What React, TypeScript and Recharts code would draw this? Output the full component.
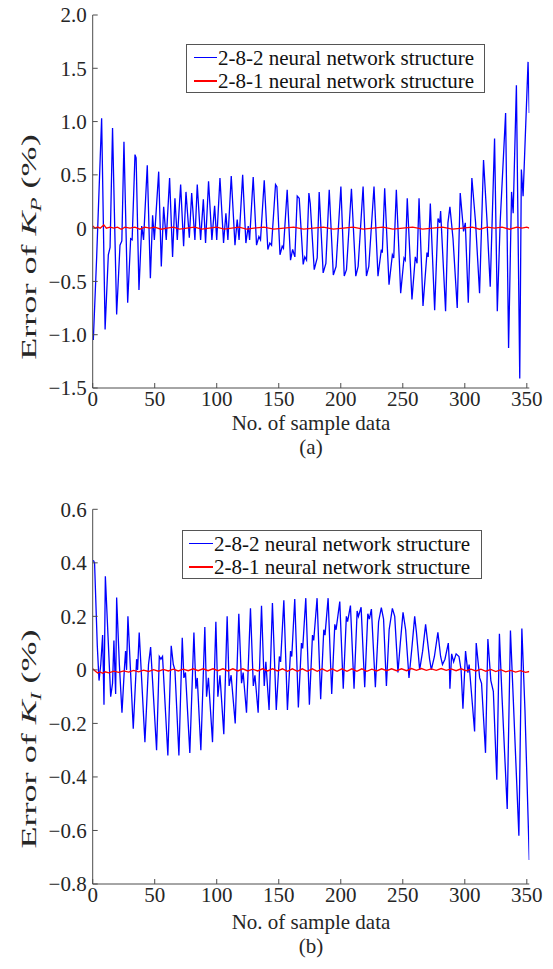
import React from "react";
import { LineChart, Line, XAxis, YAxis, Legend } from "recharts";

// ─── Values ────────────────────────────────────────────────────────────────

const xTicks = [0, 50, 100, 150, 200, 250, 300, 350];
const kpTicks = [-1.5, -1, -0.5, 0, 0.5, 1, 1.5, 2];
const kiTicks = [-0.8, -0.6, -0.4, -0.2, 0, 0.2, 0.4, 0.6];
const seriesNames = ["2-8-2 neural network structure", "2-8-1 neural network structure"];
const captions = ["(a)", "(b)"];

// turning points of each trace: [sample no., error %]
const kpNet282: [number, number][] = [
  [0.5, -1.05], [3.2, -0.27], [7.2, 1.03], [10, -0.95], [12.6, -0.25], [14, -0.18], [16, 0.94],
  [19.3, -0.81], [22, -0.16], [23.5, -0.12], [25.2, 0.81], [28.2, -0.7], [30.6, -0.1], [31.8, -0.11],
  [34.1, 0.69], [35, 0.66], [37.3, -0.58], [39.5, 0.02], [41, -0.11], [44, 0.59], [46.5, -0.47],
  [48.3, 0.12], [49.7, -0.11], [53.2, 0.53], [55.3, -0.36], [57.2, 0.2], [59.3, -0.11], [62, 0.47],
  [64.4, -0.27], [66.3, 0.28], [68.2, -0.11], [70.9, 0.41], [73.3, -0.17], [75.2, 0.34], [77.9, -0.09],
  [79.8, 0.33], [82.4, -0.11], [84.3, 0.41], [87, -0.11], [89.2, 0.27], [91, -0.14], [93.4, 0.44],
  [96.1, -0.11], [98.3, 0.21], [100, -0.11], [102.6, 0.47], [105.5, -0.14], [107.4, 0.14], [109, -0.11],
  [111.7, 0.49], [114.7, -0.16], [116.5, 0.08], [118, -0.11], [120.9, 0.5], [123.5, -0.14], [125.4, 0.02],
  [126.5, -0.11], [129.4, 0.48], [132.1, -0.16], [134, -0.08], [135.3, -0.11], [138.3, 0.45], [141.2, -0.2],
  [142.8, -0.14], [144.2, -0.16], [147.4, 0.41], [148.5, 0.39], [151, -0.25], [152.8, -0.17], [153.8, -0.19],
  [156.8, 0.36], [159.5, -0.3], [161.2, -0.2], [163, -0.27], [164.9, 0.3], [166.5, 0.28], [169.7, -0.34],
  [171, -0.27], [172.4, -0.3], [174.3, 0.33], [175.4, 0.23], [178.6, -0.39], [181, -0.28], [182.6, 0.34],
  [185.8, -0.42], [188, -0.33], [190.7, 0.36], [194, -0.44], [196.2, -0.36], [200.1, 0.39], [202.8, -0.45],
  [204.6, -0.39], [208.6, 0.37], [212.1, -0.45], [214, -0.36], [218, 0.39], [220.7, -0.45], [222.6, -0.36],
  [226.8, 0.39], [230, -0.45], [232.7, -0.2], [233.5, -0.23], [235.4, 0.375], [238.9, -0.53], [241.6, -0.25],
  [242.7, -0.28], [244.8, 0.36], [248.3, -0.61], [251, -0.28], [252, -0.3], [253.6, 0.28], [257.4, -0.67],
  [260.1, -0.27], [261.5, -0.33], [263.1, 0.28], [266.3, -0.73], [269.5, -0.23], [270.5, -0.27], [272.2, 0.23],
  [275.7, -0.77], [278.4, 0.09], [279.8, 0.05], [280.5, 0.16], [284.5, -0.78], [286.4, 0.05], [288, 0.2],
  [290.5, -0.1], [293.9, -0.75], [296.3, 0.33], [299, -0.03], [300.4, 0.05], [302.8, -0.7], [305.7, 0.47],
  [308.7, 0.05], [311.9, -0.61], [315.1, 0.64], [317.8, 0.09], [320.5, -0.55], [324, 0.84], [326.2, -0.78],
  [328.5, 0.05], [332.9, 1.08], [335.3, -1.125], [337.7, 0.34], [339, 0.14], [341.6, 1.34], [344.3, -1.41],
  [345.6, 0.55], [347, 0.3], [351, 1.56], [352, 1.08],
];

const kpNet281: [number, number][] = [
  [0, 0.02], [2, 0], [4, 0.01], [6, 0], [9, 0.03], [11, 0], [14, 0.01], [17, 0], [20, 0.01], [23, -0.01],
  [26, 0.01], [30, 0], [34, 0.01], [38, -0.01], [42, 0.01], [46, 0], [50, 0.01], [55, -0.01], [60, 0],
  [65, 0.01], [70, -0.01], [76, 0], [82, 0.01], [88, -0.01], [94, 0], [100, 0.01], [106, -0.01], [112, 0],
  [118, 0.01], [124, -0.01], [130, 0], [138, 0.01], [146, -0.01], [154, 0], [162, 0.01], [170, -0.01],
  [178, 0], [186, 0.01], [194, -0.01], [202, 0], [210, 0.01], [218, -0.01], [226, 0], [234, 0.01],
  [242, -0.01], [250, 0], [258, 0.01], [266, -0.01], [274, 0], [282, 0.01], [290, -0.01], [298, 0],
  [306, 0.01], [312, -0.01], [318, 0.01], [324, 0], [330, 0.01], [336, -0.01], [342, 0.01], [346, 0],
  [350, 0.01], [352, 0],
];

const kiNet282: [number, number][] = [
  [0.5, 0.41], [1.5, 0.4], [3.7, 0.09], [5.1, -0.04], [6.5, 0.02], [8, 0.13], [9.1, -0.13], [10.2, 0.35],
  [12.6, 0.1], [14.5, -0.1], [16, -0.05], [17.1, 0.11], [18.5, -0.09], [19.3, 0.27], [21.5, 0.02],
  [23.6, -0.16], [25.5, 0], [26.5, 0.07], [27.3, 0], [28.4, 0.2], [32.7, -0.22], [35.4, 0.04], [36.2, 0],
  [37.5, 0.14], [42.1, -0.27], [45, 0.02], [46.7, 0.085], [51.5, -0.3], [53.7, 0.05], [55, 0.04],
  [56.3, 0.05], [60.6, -0.32], [63.3, 0.09], [65, 0.02], [66.3, 0], [69.5, -0.32], [72.2, 0.12],
  [73.5, -0.03], [74.8, -0.01], [78.3, -0.31], [81.6, 0.14], [83.2, -0.07], [84.3, -0.03], [87.2, -0.3],
  [90.4, 0.16], [91.8, -0.1], [93.3, -0.03], [96.6, -0.27], [99.3, 0.18], [100.9, -0.1], [102.6, -0.02],
  [105.7, -0.24], [108.4, 0.2], [110, -0.06], [111.6, -0.02], [114.9, -0.2], [117.8, 0.21], [120, -0.05],
  [121.3, -0.01], [124, -0.16], [127.2, 0.23], [129.5, -0.06], [130.8, -0.02], [133.4, -0.16], [136.1, 0.24],
  [138.3, -0.06], [139.6, 0.03], [142.2, -0.15], [144.9, 0.25], [148, -0.15], [150.5, 0.05], [151.5, 0.03],
  [154.1, 0.26], [157, -0.15], [159.5, 0.07], [160.5, 0.05], [162.9, 0.265], [165.8, -0.14], [168.3, 0.1],
  [169.3, 0.08], [171.8, 0.268], [174.7, -0.13], [177.2, 0.13], [178.2, 0.11], [180.9, 0.268], [183.8, -0.11],
  [186.3, 0.15], [187.3, 0.13], [189.8, 0.268], [192.7, -0.09], [195.2, 0.17], [196.2, 0.15], [199.2, 0.255],
  [202, -0.07], [204.5, 0.2], [205.5, 0.18], [207.8, 0.24], [210.7, -0.07], [213.2, 0.22], [214.2, 0.2],
  [216.4, 0.234], [219.3, -0.065], [221.8, 0.21], [223, 0.19], [224.7, 0.227], [227.9, -0.065], [230.5, 0.18],
  [232.7, 0.233], [234.5, 0.19], [236.8, -0.06], [239, 0.15], [241.6, 0.23], [243.5, 0.2], [246.1, -0.01],
  [248, 0.1], [250.2, 0.215], [252.3, 0.15], [255, -0.03], [257.3, 0.08], [259.6, 0.2], [261, 0.14],
  [263.6, 0], [266, 0.07], [268.4, 0.17], [271.6, 0.04], [273, 0], [275.5, 0.05], [278.3, 0.14],
  [280.5, 0.05], [282, 0.02], [284, 0.04], [286.7, 0.1], [287.5, 0.03], [288, -0.07], [289.4, 0.06],
  [291, 0.03], [293, 0.06], [295.3, 0.05], [297, 0], [298.5, -0.145], [300.6, 0.07], [302.5, -0.01],
  [303.5, 0.02], [307.9, -0.23], [309.2, 0.1], [312, -0.03], [313.5, -0.05], [316.7, -0.31], [318.6, 0.115],
  [321, -0.04], [323, -0.08], [325.8, -0.41], [327.9, 0.135], [330, -0.1], [334.2, -0.52], [336.8, 0.147],
  [339, -0.1], [343.6, -0.62], [346, 0.155], [348.5, -0.15], [352, -0.71],
];

const kiNet281: [number, number][] = [
  [0, 0.004], [2, -0.004], [4, -0.012], [6, -0.008], [8, -0.013], [10, -0.007], [13, -0.011], [17, -0.005],
  [21, -0.009], [25, -0.004], [29, -0.008], [33, -0.002], [37, -0.007], [41, -0.001], [45, -0.006], [49, 0.001],
  [53, -0.005], [57, 0.002], [61, -0.004], [65, 0.003], [69, -0.004], [73, 0.003], [77, -0.003], [81, 0.004],
  [85, -0.003], [89, 0.004], [93, -0.003], [97, 0.004], [101, -0.003], [105, 0.004], [109, -0.004], [113, 0.004],
  [117, -0.004], [121, 0.004], [125, -0.004], [129, 0.003], [133, -0.004], [137, 0.004], [141, -0.004],
  [145, 0.004], [149, -0.004], [153, 0.004], [157, -0.005], [161, 0.004], [165, -0.005], [169, 0.004],
  [173, -0.005], [177, 0.004], [181, -0.005], [185, 0.004], [189, -0.005], [193, 0.004], [197, -0.005],
  [201, 0.004], [205, -0.005], [209, 0.004], [213, -0.005], [217, 0.004], [221, -0.005], [225, 0.003],
  [229, -0.004], [233, 0.004], [237, -0.003], [241, 0.004], [245, -0.003], [249, 0.004], [253, -0.003],
  [257, 0.005], [261, -0.002], [265, 0.005], [269, -0.002], [273, 0.004], [277, -0.002], [281, 0.005],
  [285, -0.002], [289, 0.004], [293, -0.003], [297, 0.004], [301, -0.003], [305, 0.003], [309, -0.004],
  [313, 0.003], [317, -0.005], [321, 0.002], [325, -0.006], [329, 0.001], [333, -0.007], [337, -0.002],
  [341, -0.008], [345, -0.003], [349, -0.009], [352, -0.006],
];

// ─── Styling ───────────────────────────────────────────────────────────────

const FONT = '"Liberation Serif", "Times New Roman", serif';
const TEXT = "#262626";
const AXIS = "#4d4d4d";
const BLUE = "#0000ff";
const RED = "#ff0000";
const COLORS = [BLUE, RED];

const W = 553;
const PLOT_LEFT = 92.7;
const PLOT_RIGHT = 529.3;
const X_MAX = 352;
const Y_TITLE_SIZE = 22;
const Y_TITLE_STRETCH = 1.64; // the source's rotated label is drawn long

const toRows = (pts: [number, number][]) => pts.map(([x, y]) => ({ x, y }));

const fmt = (v: number) => {
  if (Math.abs(v) < 1e-9) return "0";
  const s = Math.abs(v).toFixed(1);
  return v < 0 ? "\u2212" + s : s;
};

// ─── One panel ─────────────────────────────────────────────────────────────

function Panel(props: any) {
  const {
    top, height, plotTop, plotBottom, yDomain, yTicks, blue, red, sub, caption,
    legend, yTitleY, titleBase, captionBase,
  } = props;
  const cx = (PLOT_LEFT + PLOT_RIGHT) / 2;

  const renderXTitle = () => (
    <g fontFamily={FONT} fontSize={21} fill={TEXT}>
      <text x={cx} y={titleBase} textAnchor="middle">No. of sample data</text>
      <text x={cx} y={captionBase} textAnchor="middle">{caption}</text>
    </g>
  );

  const renderYTitle = () => (
    <text
      x={0}
      y={0}
      transform={`translate(28 ${yTitleY}) rotate(-90) scale(${Y_TITLE_STRETCH} 1)`}
      textAnchor="middle"
      dy="0.35em"
      fontFamily={FONT}
      fontSize={Y_TITLE_SIZE}
      fill={TEXT}
    >
      Error of{" "}
      <tspan fontStyle="italic">K</tspan>
      <tspan fontStyle="italic" fontSize={14} dy={5}>{sub}</tspan>
      <tspan dy={-5}> (%)</tspan>
    </text>
  );

  const renderLegend = () => (
    <div
      style={{
        position: "relative",
        width: legend.w,
        height: legend.h,
        boxSizing: "border-box",
        border: "1px solid #555",
        background: "#fff",
        fontFamily: FONT,
        fontSize: 21,
        color: "#111",
      }}
    >
      {seriesNames.map((name, i) => (
        <div
          key={name}
          style={{ position: "absolute", left: 0, top: legend.rows[i] - 10, height: 20, lineHeight: "20px", whiteSpace: "nowrap" }}
        >
          <div
            style={{
              position: "absolute",
              left: legend.line[0],
              top: 9,
              width: legend.line[1] - legend.line[0],
              height: 1.5,
              background: COLORS[i],
            }}
          />
          <span style={{ position: "absolute", left: legend.textX, top: 0 }}>{name}</span>
        </div>
      ))}
    </div>
  );

  return (
    <div style={{ position: "absolute", left: 0, top, width: W, height }}>
      <LineChart
        width={W}
        height={height}
        margin={{ top: plotTop, right: W - PLOT_RIGHT, left: PLOT_LEFT - 60, bottom: height - plotBottom - 30 }}
      >
        <XAxis
          dataKey="x"
          type="number"
          domain={[0, X_MAX]}
          ticks={xTicks}
          interval={0}
          allowDataOverflow
          height={30}
          stroke={AXIS}
          tickSize={-5}
          tickMargin={8}
          tick={{ fill: TEXT, fontSize: 21, fontFamily: FONT }}
          label={{ content: renderXTitle }}
        />
        <XAxis
          xAxisId="top"
          orientation="top"
          type="number"
          domain={[0, X_MAX]}
          ticks={xTicks}
          interval={0}
          allowDataOverflow
          height={0}
          stroke={AXIS}
          tickSize={-5}
          tick={false}
        />
        <YAxis
          type="number"
          domain={yDomain}
          ticks={yTicks}
          interval={0}
          allowDataOverflow
          width={60}
          stroke={AXIS}
          tickSize={-5}
          tickMargin={11}
          tickFormatter={fmt}
          tick={{ fill: TEXT, fontSize: 21, fontFamily: FONT }}
          label={{ content: renderYTitle }}
        />
        <YAxis
          yAxisId="right"
          orientation="right"
          type="number"
          domain={yDomain}
          ticks={yTicks}
          interval={0}
          allowDataOverflow
          width={0}
          stroke={AXIS}
          tickSize={-5}
          tick={false}
        />
        <Legend
          layout="vertical"
          align="center"
          verticalAlign="middle"
          wrapperStyle={{ left: legend.left, top: legend.top, width: legend.w, height: legend.h }}
          content={renderLegend}
        />
        <Line
          data={toRows(blue)}
          dataKey="y"
          name={seriesNames[0]}
          type="linear"
          stroke={BLUE}
          strokeWidth={1.3}
          dot={false}
          activeDot={false}
          isAnimationActive={false}
        />
        <Line
          data={toRows(red)}
          dataKey="y"
          name={seriesNames[1]}
          type="linear"
          stroke={RED}
          strokeWidth={1.3}
          dot={false}
          activeDot={false}
          isAnimationActive={false}
        />
      </LineChart>
    </div>
  );
}

export default function App() {
  return (
    <div style={{ position: "absolute", left: 0, top: 0, width: W, height: 969, background: "#fff" }}>
      <Panel
        top={0}
        height={460}
        plotTop={15}
        plotBottom={388}
        yDomain={[-1.5, 2]}
        yTicks={kpTicks}
        blue={kpNet282}
        red={kpNet281}
        sub="P"
        caption={captions[0]}
        legend={{ left: 186, top: 44, w: 299, h: 49, rows: [12.5, 36], line: [6.7, 30], textX: 31 }}
        yTitleY={247}
        titleBase={430}
        captionBase={454}
      />
      <Panel
        top={480}
        height={489}
        plotTop={29.3}
        plotBottom={404}
        yDomain={[-0.8, 0.6]}
        yTicks={kiTicks}
        blue={kiNet282}
        red={kiNet281}
        sub="I"
        caption={captions[1]}
        legend={{ left: 182, top: 50, w: 300, h: 49, rows: [12.5, 36], line: [6, 29.7], textX: 31 }}
        yTitleY={259}
        titleBase={449}
        captionBase={473}
      />
    </div>
  );
}
